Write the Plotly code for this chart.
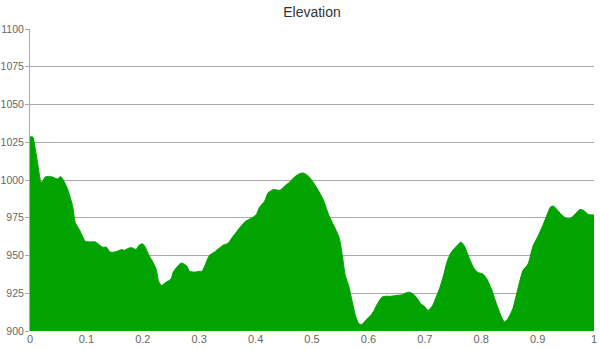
import plotly.graph_objects as go

distance = [0.0, 0.005, 0.007, 0.0136, 0.0195, 0.022, 0.027, 0.033, 0.040, 0.046, 0.049, 0.054, 0.059,
            0.067, 0.076, 0.080, 0.0876, 0.098, 0.105, 0.116, 0.123, 0.129, 0.135, 0.142, 0.150,
            0.156, 0.163, 0.167, 0.176, 0.182, 0.188, 0.194, 0.199, 0.203, 0.211, 0.218, 0.224,
            0.228, 0.233, 0.240, 0.250, 0.254, 0.262, 0.268, 0.272, 0.278, 0.283, 0.292, 0.299,
            0.305, 0.312, 0.318, 0.327, 0.336, 0.343, 0.351, 0.360, 0.367, 0.375, 0.382, 0.392,
            0.401, 0.407, 0.416, 0.422, 0.431, 0.441, 0.445, 0.451, 0.460, 0.469, 0.478, 0.485,
            0.494, 0.503, 0.512, 0.521, 0.530, 0.539, 0.548, 0.553, 0.559, 0.565, 0.571, 0.577,
            0.583, 0.588, 0.595, 0.604, 0.610, 0.616, 0.624, 0.631, 0.640, 0.648, 0.660, 0.666,
            0.673, 0.681, 0.687, 0.693, 0.699, 0.706, 0.714, 0.720, 0.726, 0.733, 0.740, 0.745,
            0.751, 0.758, 0.764, 0.770, 0.776, 0.782, 0.788, 0.794, 0.803, 0.810, 0.818, 0.827,
            0.836, 0.841, 0.847, 0.856, 0.865, 0.874, 0.883, 0.892, 0.901, 0.910, 0.917, 0.923,
            0.928, 0.933, 0.942, 0.951, 0.958, 0.966, 0.975, 0.981, 0.990, 1.0]
elevation = [1028.5, 1028.5, 1025.6, 1011, 998.5, 999, 1002, 1002.4, 1002, 1001, 1000.7, 1002.4, 1000,
             993.6, 982, 972, 967, 959.4, 959, 959, 957, 955.4, 955.6, 952.3, 952.3,
             953, 954, 953.4, 955, 955, 954, 957, 957.8, 956.5, 950, 945.5, 940.6,
             933, 930.2, 932, 934.4, 939, 943, 945, 944.6, 943, 939.5, 939, 939.5,
             939.5, 945, 950, 952.3, 955, 957, 958, 962.7, 966, 969.8, 972.6, 974.6,
             977, 982, 986, 991.4, 993.6, 993.2, 993.6, 995.8, 998.5, 1002, 1004.2, 1004.6,
             1002.4, 998, 992.5, 986, 976.5, 969.5, 962, 952, 936.6, 930, 920, 910.3,
             904.8, 904.2, 907, 910.3, 913.6, 918, 922.4, 923, 923, 923.5, 924, 925.2,
             925.7, 924, 921.3, 918, 916.4, 913.6, 917, 922.4, 927.9, 936.6, 946.5, 950.9,
             954.2, 956.8, 959, 956.4, 950.9, 945.4, 941, 938.8, 937.7, 934.4, 927.9, 918,
             909.2, 906, 908, 914.7, 927.9, 940, 944.3, 956.4, 963, 970.6, 977.2, 982.2,
             982.7, 981, 977.2, 974.6, 974.6, 977.2, 980.5, 980, 977.2, 976.8]

y_ticks = [900, 925, 950, 975, 1000, 1025, 1050, 1075, 1100]
x_ticks = [0, 0.1, 0.2, 0.3, 0.4, 0.5, 0.6, 0.7, 0.8, 0.9, 1]
x_tick_labels = ["0", "0.1", "0.2", "0.3", "0.4", "0.5", "0.6", "0.7", "0.8", "0.9", "1"]

fig = go.Figure()
fig.add_trace(go.Scatter(
    x=distance, y=elevation, mode="lines",
    line=dict(color="#00a300", width=1, shape="spline", smoothing=0.6),
    fill="tozeroy", fillcolor="#00a300",
    hoverinfo="x+y", showlegend=False,
))

fig.update_layout(
    width=600, height=350,
    margin=dict(l=30, r=6, t=29, b=19),
    paper_bgcolor="white", plot_bgcolor="white",
    font=dict(family="Liberation Sans, Arial, sans-serif", size=11, color="#666666"),
    title=dict(text="Elevation", x=0.52, xanchor="center", y=0.965, yanchor="middle",
               font=dict(size=14, color="#333333")),
    xaxis=dict(range=[0, 1], tickvals=x_ticks, ticktext=x_tick_labels, showgrid=False,
               zeroline=False, showline=False, ticks="", automargin=False,
               tickfont=dict(size=11, color="#666666")),
    yaxis=dict(range=[900, 1100], tickvals=y_ticks, showgrid=True, gridcolor="#aaaaaa",
               gridwidth=1, zeroline=False, showline=True, linecolor="#aaaaaa", linewidth=1,
               ticks="outside", ticklen=4, tickcolor="#aaaaaa", automargin=False,
               ticklabelstandoff=-1,
               tickfont=dict(size=10.5, color="#666666")),
)

fig.write_html("out.html")
